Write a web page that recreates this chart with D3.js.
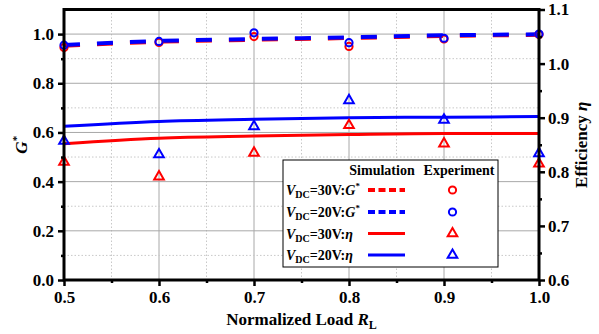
<!DOCTYPE html>
<html><head><meta charset="utf-8">
<script src="https://cdn.jsdelivr.net/npm/d3@7"></script>
<style>
body{margin:0;background:#fff;}
svg{display:block;}
svg text{font-family:"Liberation Serif","Times New Roman",Tinos,serif !important;font-weight:bold;}
</style></head>
<body><svg id="c" width="599" height="334"></svg>
<script>
const loads = [0.5, 0.6, 0.7, 0.8, 0.9, 1.0];
const simG30 = [0.953, 0.969, 0.977, 0.984, 0.992, 0.997];
const simG20 = [0.956, 0.972, 0.980, 0.987, 0.995, 0.999];
const simEta30 = [0.852, 0.862, 0.866, 0.869, 0.871, 0.871];
const simEta20 = [0.884, 0.893, 0.897, 0.900, 0.901, 0.902];
const expG30 = [0.945, 0.966, 0.990, 0.950, 0.980, 0.998];
const expG20 = [0.955, 0.970, 1.005, 0.965, 0.983, 1.000];
const expEta30 = [0.818, 0.791, 0.835, 0.886, 0.852, 0.815];
const expEta20 = [0.857, 0.832, 0.884, 0.932, 0.896, 0.834];
const xTicks = [0.5, 0.6, 0.7, 0.8, 0.9, 1.0];
const xMinor = [0.55, 0.65, 0.75, 0.85, 0.95];
const yLTicks = [0.0, 0.2, 0.4, 0.6, 0.8, 1.0];
const yLMinor = [0.1, 0.3, 0.5, 0.7, 0.9];
const yRTicks = [0.6, 0.7, 0.8, 0.9, 1.0, 1.1];
const yRMinor = [0.65, 0.75, 0.85, 0.95, 1.05];

const RED = "#ff0000", BLUE = "#0000ff";
const svg = d3.select("#c");
const L = 64, R = 539, T = 9.5, B = 280;
const x = d3.scaleLinear([0.5, 1.0], [L, R]);
const yL = d3.scaleLinear([0, 1.1], [B, T]);
const yR = d3.scaleLinear([0.6, 1.1], [B, T]);

// grid
const g = svg.append("g");
g.selectAll(".vmaj").data(xTicks.slice(1, -1)).join("line")
  .attr("x1", d => x(d)).attr("x2", d => x(d)).attr("y1", T).attr("y2", B)
  .attr("stroke", "#a8a8a8").attr("stroke-width", 1);
g.selectAll(".vmin").data(xMinor).join("line")
  .attr("x1", d => x(d)).attr("x2", d => x(d)).attr("y1", T).attr("y2", B)
  .attr("stroke", "#c8c8c8").attr("stroke-width", 1).attr("stroke-dasharray", "1.5,2");
g.selectAll(".hmaj").data(yLTicks.slice(1)).join("line")
  .attr("x1", L).attr("x2", R).attr("y1", d => yL(d)).attr("y2", d => yL(d))
  .attr("stroke", "#a8a8a8").attr("stroke-width", 1);
g.selectAll(".hmin").data(yLMinor).join("line")
  .attr("x1", L).attr("x2", R).attr("y1", d => yL(d)).attr("y2", d => yL(d))
  .attr("stroke", "#c8c8c8").attr("stroke-width", 1).attr("stroke-dasharray", "1.5,2");

// lines
const lineL = d3.line().x((d, i) => x(loads[i])).y(d => yL(d)).curve(d3.curveMonotoneX);
const lineR = d3.line().x((d, i) => x(loads[i])).y(d => yR(d)).curve(d3.curveMonotoneX);
svg.append("path").attr("d", lineL(simG30)).attr("fill", "none").attr("stroke", RED).attr("stroke-width", 4).attr("stroke-dasharray", "16,17");
svg.append("path").attr("d", lineL(simG20)).attr("fill", "none").attr("stroke", BLUE).attr("stroke-width", 4).attr("stroke-dasharray", "16,17");
svg.append("path").attr("d", lineR(simEta30)).attr("fill", "none").attr("stroke", RED).attr("stroke-width", 3);
svg.append("path").attr("d", lineR(simEta20)).attr("fill", "none").attr("stroke", BLUE).attr("stroke-width", 3);

// markers
const tri = d3.symbol().type(d3.symbolTriangle).size(40);
function circles(vals, col) {
  svg.append("g").selectAll("circle").data(vals).join("circle")
    .attr("cx", (d, i) => x(loads[i])).attr("cy", d => yL(d)).attr("r", 3.6)
    .attr("fill", "none").attr("stroke", col).attr("stroke-width", 2);
}
function tris(vals, col) {
  svg.append("g").selectAll("path").data(vals).join("path")
    .attr("d", tri).attr("transform", (d, i) => `translate(${x(loads[i])},${yR(d)})`)
    .attr("fill", "none").attr("stroke", col).attr("stroke-width", 2);
}
circles(expG30, RED); circles(expG20, BLUE);
tris(expEta30, RED); tris(expEta20, BLUE);

// axes
function styleAxis(sel) {
  sel.select(".domain").remove();
  sel.selectAll(".tick line").attr("stroke", "#000").attr("stroke-width", 2.5);
  sel.selectAll("text").attr("font-size", 17).attr("fill", "#000");
}
const f = d3.format(".1f");
svg.append("g").attr("transform", `translate(0,${B})`)
  .call(d3.axisBottom(x).tickValues(xTicks).tickFormat(f).tickSize(6).tickPadding(5)).call(styleAxis);
svg.append("g").attr("transform", `translate(0,${B})`)
  .call(d3.axisBottom(x).tickValues(xMinor).tickFormat("").tickSize(3)).call(styleAxis);
svg.append("g").attr("transform", `translate(${L},0)`)
  .call(d3.axisLeft(yL).tickValues(yLTicks).tickFormat(f).tickSize(6).tickPadding(4)).call(styleAxis);
svg.append("g").attr("transform", `translate(${L},0)`)
  .call(d3.axisLeft(yL).tickValues(yLMinor).tickFormat("").tickSize(3)).call(styleAxis);
svg.append("g").attr("transform", `translate(${R},0)`)
  .call(d3.axisRight(yR).tickValues(yRTicks).tickFormat(f).tickSize(6).tickPadding(3)).call(styleAxis);
svg.append("g").attr("transform", `translate(${R},0)`)
  .call(d3.axisRight(yR).tickValues(yRMinor).tickFormat("").tickSize(3)).call(styleAxis);

// frame
svg.append("rect").attr("x", L).attr("y", T).attr("width", R - L).attr("height", B - T)
  .attr("fill", "none").attr("stroke", "#000").attr("stroke-width", 3);

// axis titles
const xt = svg.append("text").attr("x", (L + R) / 2).attr("y", 325).attr("text-anchor", "middle").attr("font-size", 17);
xt.append("tspan").text("Normalized Load ");
xt.append("tspan").attr("font-style", "italic").text("R");
xt.append("tspan").attr("font-size", 12).attr("dy", 4).text("L");

const yt = svg.append("text").attr("transform", `translate(27,${(T + B) / 2}) rotate(-90)`).attr("text-anchor", "middle").attr("font-size", 17);
yt.append("tspan").attr("font-style", "italic").text("G");
yt.append("tspan").attr("font-size", 11).attr("dy", -7).text("*");

const rt = svg.append("text").attr("transform", `translate(587,${(T + B) / 2}) rotate(-90)`).attr("text-anchor", "middle").attr("font-size", 17);
rt.append("tspan").text("Efficiency ");
rt.append("tspan").attr("font-style", "italic").text("η");

// legend
const legRows = [
  {v: "30", q: "G", col: RED, dash: true},
  {v: "20", q: "G", col: BLUE, dash: true},
  {v: "30", q: "η", col: RED, dash: false},
  {v: "20", q: "η", col: BLUE, dash: false}
];
const lg = svg.append("g");
lg.append("rect").attr("x", 283).attr("y", 160).attr("width", 215).attr("height", 107)
  .attr("fill", "#fff").attr("stroke", "#000").attr("stroke-width", 1);
lg.append("text").attr("x", 382).attr("y", 175).attr("text-anchor", "middle").attr("font-size", 14).text("Simulation");
lg.append("text").attr("x", 459).attr("y", 175).attr("text-anchor", "middle").attr("font-size", 14).text("Experiment");
const rowY = [190, 212, 233.5, 255];
legRows.forEach((r, i) => {
  const cy = rowY[i];
  const t = lg.append("text").attr("x", 286).attr("y", cy + 5).attr("font-size", 14);
  t.append("tspan").attr("font-style", "italic").text("V");
  t.append("tspan").attr("font-size", 10).attr("dy", 3).text("DC");
  t.append("tspan").attr("dy", -3).text("=" + r.v + "V:");
  t.append("tspan").attr("font-style", "italic").text(r.q);
  if (r.q === "G") t.append("tspan").attr("font-size", 9).attr("dy", -6).text("*");
  lg.append("line").attr("x1", 368).attr("x2", 405).attr("y1", cy).attr("y2", cy)
    .attr("stroke", r.col).attr("stroke-width", r.dash ? 4 : 3)
    .attr("stroke-dasharray", r.dash ? "7,3.5" : null);
  if (r.dash) {
    lg.append("circle").attr("cx", 452.5).attr("cy", cy).attr("r", 3.6)
      .attr("fill", "none").attr("stroke", r.col).attr("stroke-width", 2);
  } else {
    lg.append("path").attr("d", tri).attr("transform", `translate(452.5,${cy})`)
      .attr("fill", "none").attr("stroke", r.col).attr("stroke-width", 2);
  }
});
</script></body></html>
